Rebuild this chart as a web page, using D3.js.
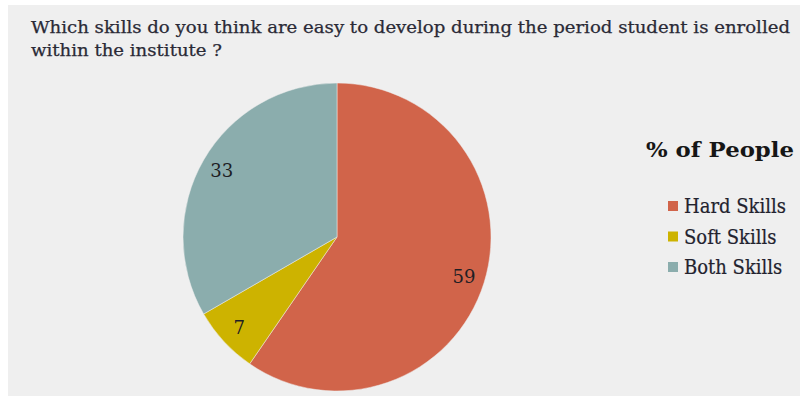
<!DOCTYPE html>
<html>
<head>
<meta charset="utf-8">
<script src="https://cdn.jsdelivr.net/npm/d3@7"></script>
<style>
  html, body { margin: 0; padding: 0; background: #ffffff; }
  svg { display: block; }
</style>
</head>
<body>
<svg id="chart" width="800" height="396"></svg>
<script>
// Survey answers: share of people per skill type
const categories = ["Hard Skills", "Soft Skills", "Both Skills"];
const values = [59, 7, 33];
const colors = ["#d1644a", "#cdb300", "#8badad"];
const titleLines = [
  "Which skills do you think are easy to develop during the period student is enrolled",
  "within the institute ?"
];
const legendTitle = "% of People";

const W = 800, H = 396;
const serif = "'DejaVu Serif', 'Liberation Serif', serif";
const svg = d3.select("#chart");

// squeeze a text element horizontally by a given factor
function squeeze(sel, factor) {
  const w = sel.node().getComputedTextLength();
  sel.attr("textLength", w * factor).attr("lengthAdjust", "spacingAndGlyphs");
  return sel;
}

// panel background
svg.append("rect")
  .attr("x", 8).attr("y", 5)
  .attr("width", W - 8).attr("height", H - 5)
  .attr("fill", "#efefef");

// title, fitted to the panel width
const title = svg.append("g")
  .attr("font-family", serif)
  .attr("font-size", 16.5)
  .attr("fill", "#2a2a36")
  .attr("stroke", "#2a2a36")
  .attr("stroke-width", 0.25);
const line1 = title.append("text")
  .attr("x", 31).attr("y", 33)
  .text(titleLines[0]);
const titleFactor = 759 / line1.node().getComputedTextLength();
squeeze(line1, titleFactor);
const line2 = title.append("text")
  .attr("x", 31).attr("y", 56)
  .text(titleLines[1]);
squeeze(line2, titleFactor);

// pie
const cx = 337, cy = 237, R = 154;
const pie = d3.pie().sort(null).value(d => d);
const arcs = pie(values);
const arc = d3.arc().innerRadius(0).outerRadius(R);
const labelArc = d3.arc().innerRadius(133).outerRadius(133);

const g = svg.append("g").attr("transform", `translate(${cx},${cy})`);
g.selectAll("path")
  .data(arcs)
  .join("path")
  .attr("d", arc)
  .attr("fill", (d, i) => colors[i])
  .attr("stroke", "#efefef")
  .attr("stroke-width", 0.5);

g.selectAll("text.val")
  .data(arcs)
  .join("text")
  .attr("class", "val")
  .attr("transform", d => `translate(${labelArc.centroid(d)})`)
  .attr("text-anchor", "middle")
  .attr("dy", "0.36em")
  .attr("font-family", serif)
  .attr("font-size", 19)
  .attr("fill", "#1e1e24")
  .each(function (d) { d3.select(this).text(d.data); squeeze(d3.select(this), 0.95); });

// legend
const legend = svg.append("g");
const lt = legend.append("text")
  .attr("x", 646).attr("y", 157)
  .attr("font-family", serif)
  .attr("font-weight", "bold")
  .attr("font-size", 21)
  .attr("fill", "#161616")
  .text(legendTitle);
squeeze(lt, 148 / lt.node().getComputedTextLength());

const rowY = d3.scalePoint().domain(categories).range([206, 267]);
const items = legend.selectAll("g.item")
  .data(categories)
  .join("g")
  .attr("class", "item")
  .attr("transform", d => `translate(0,${rowY(d)})`);
items.append("rect")
  .attr("x", 668).attr("y", -5)
  .attr("width", 10).attr("height", 10)
  .attr("fill", (d, i) => colors[i]);
const itemText = items.append("text")
  .attr("x", 684).attr("y", 0)
  .attr("dy", "0.36em")
  .attr("font-family", serif)
  .attr("font-size", 20)
  .attr("fill", "#22222e")
  .attr("stroke", "#22222e")
  .attr("stroke-width", 0.2)
  .text(d => d);
const legendFactor = 102 / itemText.filter((d, i) => i === 0).node().getComputedTextLength();
itemText.each(function () { squeeze(d3.select(this), legendFactor); });
</script>
</body>
</html>
